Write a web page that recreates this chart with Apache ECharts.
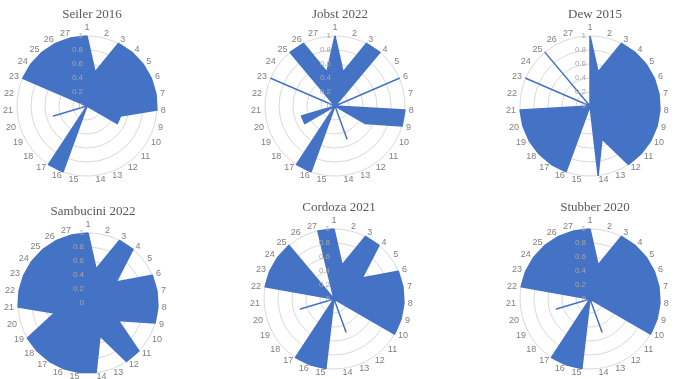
<!DOCTYPE html>
<html><head><meta charset="utf-8">
<script src="https://cdn.jsdelivr.net/npm/echarts@6/dist/echarts.min.js"></script>
<style>html,body{margin:0;padding:0;background:#fff}#c{width:680px;height:379px}</style>
</head><body><div id="c"></div>
<script>
// ---- data (axis 1..27, clockwise from top) ----
const axisLabels = ['1','2','3','4','5','6','7','8','9','10','11','12','13','14','15','16','17','18','19','20','21','22','23','24','25','26','27'];
const tickValues = [0, 0.2, 0.4, 0.6, 0.8, 1];
const titles = ['Seiler 2016', 'Jobst 2022', 'Dew 2015', 'Sambucini 2022', 'Cordoza 2021', 'Stubber 2020'];
const seiler2016    = [1, 0.5, 1, 1, 1, 1, 1, 1, 0.5, 0.5, 0, 0, 0, 0, 0, 1, 1, 0, 0, 0.5, 0, 0, 1, 1, 1, 1, 1];
const jobst2022     = [1, 0.5, 1, 1, 0, 1, 0, 1, 1, 0.5, 0, 0, 0.5, 0, 0, 1, 1, 0, 0.5, 0.5, 0, 0, 1, 0, 1, 1, 0.5];
const dew2015       = [1, 0.5, 1, 1, 1, 1, 1, 1, 1, 1, 1, 1, 0.5, 1, 0, 1, 1, 1, 1, 1, 1, 0, 1, 0, 1, 0, 0];
const sambucini2022 = [1, 0.5, 1, 1, 0.5, 1, 1, 1, 1, 0.5, 1, 1, 0.5, 1, 1, 1, 1, 1, 1, 0.5, 1, 1, 1, 1, 1, 1, 1];
const cordoza2021   = [1, 0.5, 1, 1, 0.5, 1, 1, 1, 1, 1, 0, 0, 0.5, 0, 1, 1, 1, 0, 0, 0.5, 0, 1, 1, 1, 1, 0, 1];
const stubber2020   = [1, 0.5, 1, 1, 1, 1, 1, 1, 1, 1, 0, 0, 0.5, 0, 1, 1, 1, 0, 0, 0.5, 0, 1, 1, 1, 1, 1, 1];
const allSeries = [seiler2016, jobst2022, dew2015, sambucini2022, cordoza2021, stubber2020];

// ---- layout ----
const centers = [[87,106],[335,106],[590,106],[88,303],[334,299],[590,299]];
const R = 70;
const BLUE = '#4472C4';

// ECharts radar runs counter-clockwise; reorder so axis 1 is on top and 2 is to its right
const order = [0].concat(Array.from({length: 26}, (_, i) => 26 - i));
const maxV = tickValues[tickValues.length - 1];

const radar = [], series = [], title = [];
centers.forEach((c, k) => {
  radar.push({
    center: c, radius: R, startAngle: 90, shape: 'circle', splitNumber: tickValues.length - 1,
    indicator: order.map(i => ({name: axisLabels[i], min: tickValues[0], max: maxV})),
    axisName: {color: '#7f7f7f', fontSize: 9, fontFamily: 'Liberation Sans'},
    nameGap: 4,
    splitLine: {lineStyle: {color: '#d9d9d9', width: 1}},
    splitArea: {show: false},
    axisLine: {show: false},
    axisTick: {show: false},
    axisLabel: {show: false},
    z: 0
  });
  radar.push({
    center: c, radius: R, startAngle: 90, shape: 'circle', splitNumber: tickValues.length - 1,
    indicator: order.map((i, j) => ({name: '', min: tickValues[0], max: maxV, axisLabel: {show: j === 0}})),
    axisName: {show: false},
    splitLine: {show: false}, splitArea: {show: false}, axisLine: {show: false}, axisTick: {show: false},
    axisLabel: {show: false, color: '#a6a6a6', fontSize: 8, fontFamily: 'Liberation Sans', margin: 4},
    z: 5
  });
  series.push({
    type: 'radar', radarIndex: 2 * k, symbol: 'none', silent: true, z: 2,
    lineStyle: {color: BLUE, width: 1.5},
    areaStyle: {color: BLUE, opacity: 1},
    data: [{value: order.map(i => allSeries[k][i])}]
  });
  title.push({
    text: titles[k], left: c[0], top: c[1] - 103, textAlign: 'center',
    textStyle: {fontFamily: 'Liberation Serif', fontSize: 13, fontWeight: 'normal', color: '#595959'}
  });
});

const chart = echarts.init(document.getElementById('c'), null, {renderer: 'canvas'});
chart.setOption({animation: false, backgroundColor: '#fff', title, radar, series});
</script></body></html>
